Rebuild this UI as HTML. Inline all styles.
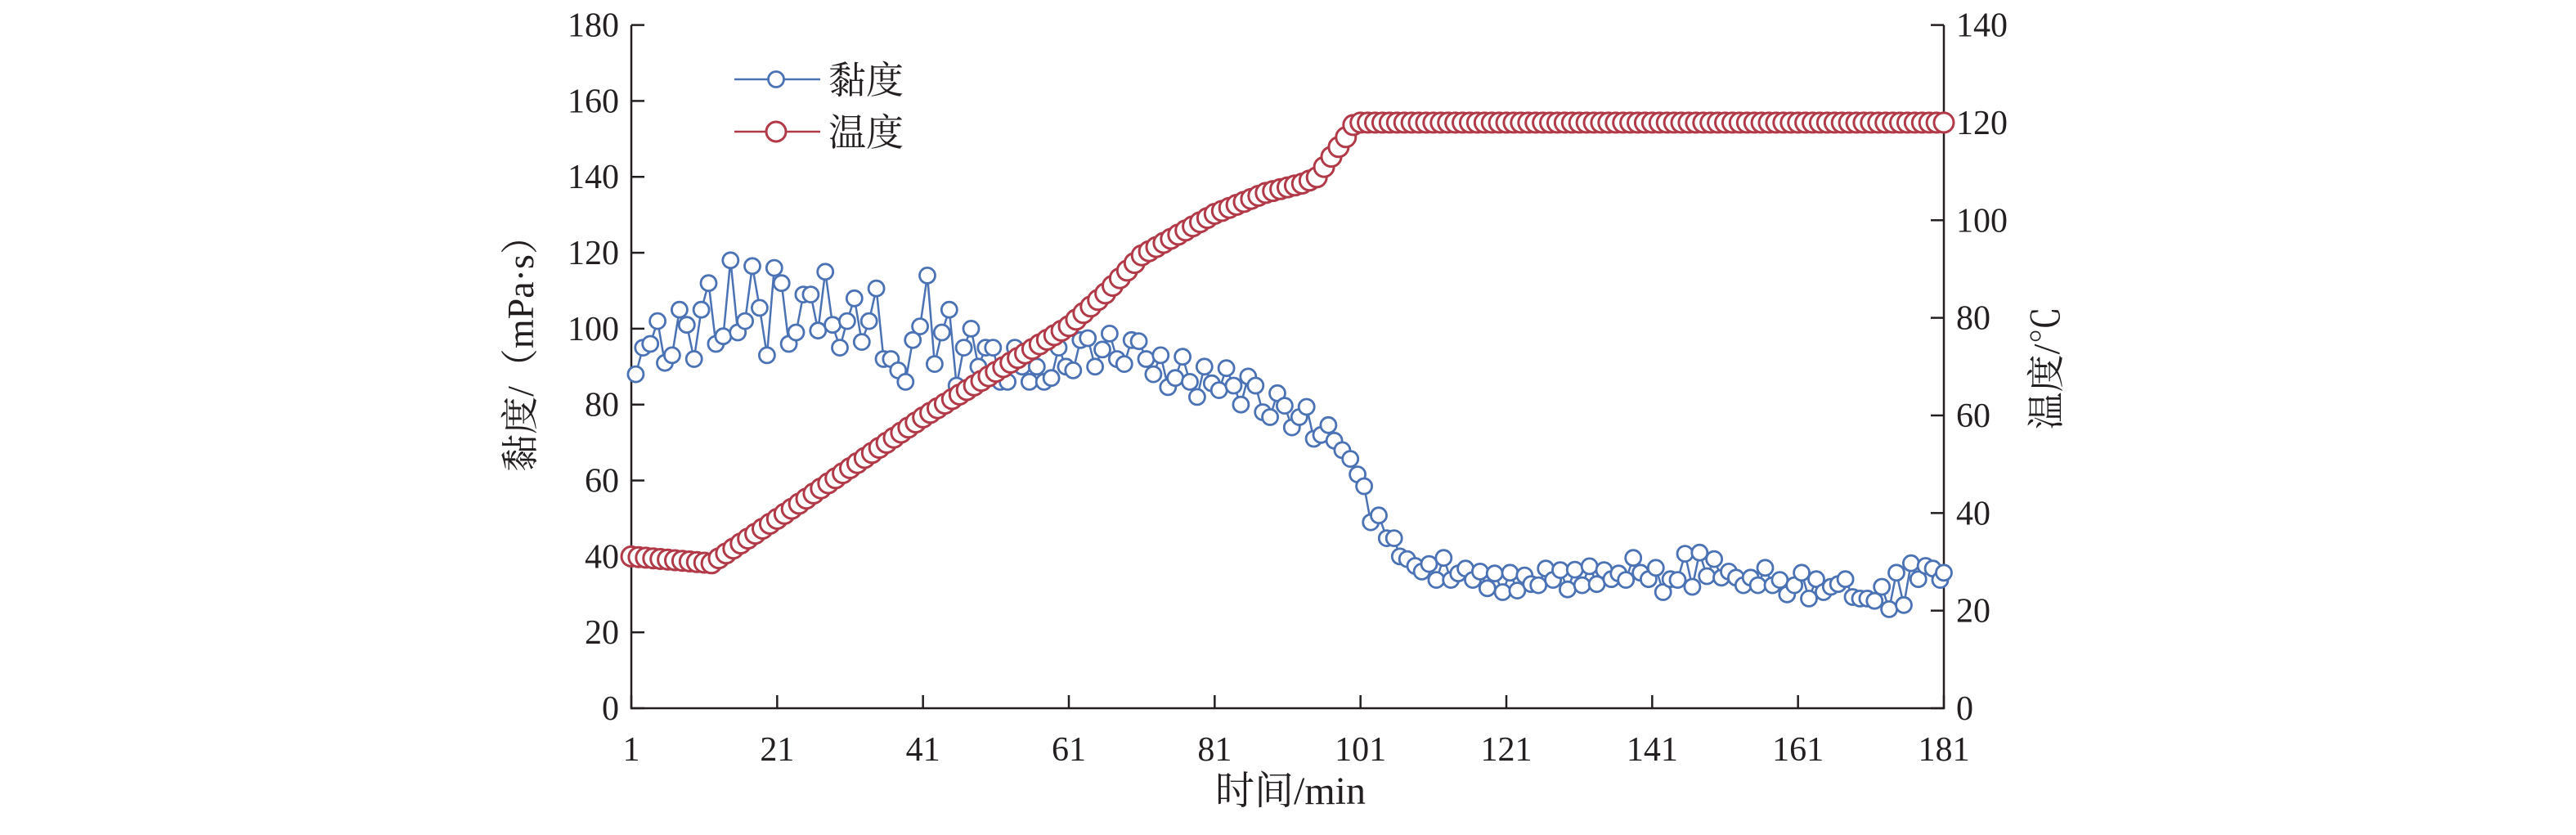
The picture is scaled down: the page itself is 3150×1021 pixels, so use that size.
<!DOCTYPE html>
<html><head><meta charset="utf-8"><style>
html,body{margin:0;padding:0;background:#fff;}
svg text{font-family:"Liberation Serif","Noto Serif CJK SC",serif;fill:#231f20;}
</style></head><body>
<svg id="c" width="3150" height="1016" viewBox="0 0 3150 1016" xmlns="http://www.w3.org/2000/svg"></svg>
<script>
const svg=document.getElementById('c');
const X0=772,X1=2377,Y0=866,YT=30.6;
const xs=t=>X0+(t-1)*(X1-X0)/180;
const yl=v=>Y0-v*(Y0-YT)/180;
const yr=v=>Y0-v*(Y0-YT)/140;
let h='';
const blue='#4a72b5',red='#b23a48';
h+=`<path d="M${X0} ${YT}V${Y0}H${X1}V${YT}" fill="none" stroke="#231f20" stroke-width="2.5"/>`;
for(let v=0;v<=180;v+=20){const y=yl(v);h+=`<line x1="${X0}" x2="${X0+16}" y1="${y}" y2="${y}" stroke="#231f20" stroke-width="2.5"/><text x="757" y="${y+14}" font-size="42" text-anchor="end">${v}</text>`;}
for(let v=0;v<=140;v+=20){const y=yr(v);h+=`<line x1="${X1}" x2="${X1-16}" y1="${y}" y2="${y}" stroke="#231f20" stroke-width="2.5"/><text x="2392" y="${y+14}" font-size="42">${v}</text>`;}
for(let t=1;t<=181;t+=20){const x=xs(t);h+=`<line x1="${x}" x2="${x}" y1="${Y0}" y2="${Y0-16}" stroke="#231f20" stroke-width="2.5"/><text x="${x}" y="930" font-size="42" text-anchor="middle">${t}</text>`;}
h+=`<text x="1578" y="983" font-size="48" text-anchor="middle">时间/min</text>`;
h+=`<text transform="translate(652,421) rotate(-90)" font-size="46" text-anchor="middle">黏度/（mPa·s）</text>`;
h+=`<text transform="translate(2518,450) rotate(-90)" font-size="46" text-anchor="middle">温度/℃</text>`;
const tk=[[1,31.1],[12,29.7],[21,38.8],[41,59.6],[61,78.3],[66,85],[71,92.8],[81,101.3],[88,105.6],[93,107.5],[95,108.8],[97,113],[99,117],[100,119.5],[101,120],[181,120]];
function temp(t){for(let i=0;i<tk.length-1;i++){if(t<=tk[i+1][0]){const a=tk[i],b=tk[i+1];return a[1]+(b[1]-a[1])*(t-a[0])/(b[0]-a[0]);}}return 120;}
const v1=[88,95,96,102,91,93,105,101,92,105,112,96,98,118,99,102,116.5,105.5,93,116,112,96,99,109,109,99.5,115,101,95,102,108,96.5,102,110.6,92,92,89,86,97,100.6,114,90.7,99,105,85,95,100,90,95,95,86,86,95,90,86,90,86,87,95,90,89,97,97.5,90,94.5,98.7,92,90.7,97,96.7,92,88,93,84.6,87,92.6,86,82,90,85.6,83.8,89.6,85,80,87.4,85,78,76.7,83,79.7,74,76.7,79.4];
let vp=v1.map((v,i)=>[1.6+i,v]);
const v2=[[94.6,71],[95.6,72],[96.6,74.6],[97.4,70.5],[98.5,68],[99.6,65.7],[100.6,61.6],[101.5,58.5],[102.4,49],[103.5,50.8],[104.6,44.8],[105.6,44.8],[106.4,40],[107.4,39.3],[108.5,37.5],[109.4,36],[110.4,38],[111.4,33.8],[112.4,39.6],[113.4,33.8],[114.4,35.5],[115.4,36.8],[116.4,33.8],[117.4,36],[118.4,31.6],[119.4,35.5],[120.5,30.6],[121.5,35.7],[122.5,31],[123.5,35],[124.4,32.7],[125.4,32.4],[126.4,36.8],[127.4,33.8],[128.4,36.4],[129.4,31.3],[130.4,36.5],[131.4,32.4],[132.4,37.4],[133.4,32.7],[134.4,36.4],[135.4,34],[136.4,35.5],[137.4,33.8],[138.4,39.6],[139.4,35.7],[140.5,34],[141.5,37],[142.5,30.6],[143.5,34],[144.5,33.8],[145.5,40.7],[146.5,32],[147.5,41],[148.5,34.8],[149.5,39.3],[150.5,34.4],[151.5,36],[152.5,34.4],[153.5,32.4],[154.5,34.4],[155.5,32.4],[156.5,37],[157.5,32.4],[158.5,33.8],[159.5,30],[160.5,32.4],[161.5,35.7],[162.5,28.9],[163.5,34],[164.5,30.6],[165.5,32],[166.5,32.7],[167.5,34],[168.5,29.3],[169.5,28.9],[170.5,28.9],[171.5,28.3],[172.5,32],[173.5,26.1],[174.5,35.7],[175.5,27.2],[176.5,38.2],[177.5,34],[178.5,37.5],[179.5,36.8],[180.5,33.8],[181,35.7]];
vp=vp.concat(v2);
vp.unshift([1,87.9]);
h+=`<polyline fill="none" stroke="${blue}" stroke-width="2.5" points="${vp.map(p=>xs(p[0]).toFixed(1)+','+yl(p[1]).toFixed(1)).join(' ')}"/>`;
vp.slice(1).forEach(p=>{h+=`<circle cx="${xs(p[0]).toFixed(1)}" cy="${yl(p[1]).toFixed(1)}" r="9.5" fill="#fff" stroke="${blue}" stroke-width="2.8"/>`;});
let tp=[];for(let t=1;t<=181;t++)tp.push([t,temp(t)]);
h+=`<polyline fill="none" stroke="${red}" stroke-width="2.5" points="${tp.map(p=>xs(p[0]).toFixed(1)+','+yr(p[1]).toFixed(1)).join(' ')}"/>`;
tp.forEach(p=>{h+=`<circle cx="${xs(p[0]).toFixed(1)}" cy="${yr(p[1]).toFixed(1)}" r="12" fill="#fff" stroke="${red}" stroke-width="3"/>`;});
h+=`<line x1="898" x2="1003" y1="97" y2="97" stroke="${blue}" stroke-width="2.5"/><circle cx="949" cy="97" r="9.5" fill="#fff" stroke="${blue}" stroke-width="2.8"/><text x="1013" y="114" font-size="46">黏度</text>`;
h+=`<line x1="898" x2="1003" y1="161" y2="161" stroke="${red}" stroke-width="2.5"/><circle cx="949" cy="161" r="12" fill="#fff" stroke="${red}" stroke-width="3"/><text x="1013" y="178" font-size="46">温度</text>`;
svg.innerHTML=h;
</script>
</body></html>
